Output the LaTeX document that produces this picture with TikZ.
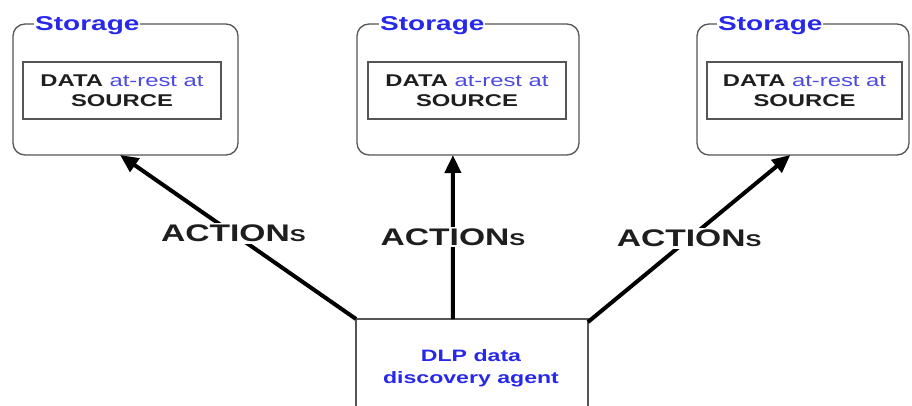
\documentclass[tikz,border=0pt]{standalone}
\usepackage{fontspec}
\setmainfont{Liberation Sans}
\newfontfamily\widefont[FakeStretch=1.4]{Liberation Sans}
\usetikzlibrary{arrows.meta,calc}
\definecolor{stblue}{RGB}{40,40,235}
\definecolor{lblue}{RGB}{75,75,225}
\definecolor{boxgray}{RGB}{85,85,85}
\definecolor{txt}{RGB}{30,30,30}
\tikzset{
 storebox/.style={draw=boxgray, line width=1.3pt, rounded corners=12pt, inner sep=0pt, outer sep=0pt},
 innerbox/.style={draw=boxgray, line width=1.3pt, inner sep=0pt, outer sep=0pt, align=center, text=txt,
   font=\widefont\fontsize{17}{20}\selectfont},
 storelabel/.style={fill=white, inner sep=1pt, anchor=west, text=stblue,
   font=\widefont\bfseries\fontsize{20}{22}\selectfont},
 act/.style={line width=4pt, -{Triangle[length=18pt,width=16pt]}},
 actlabel/.style={fill=white, inner sep=2pt, text=txt,
   font=\widefont\bfseries\fontsize{24}{26}\selectfont},
 agentbox/.style={draw=none, inner sep=0pt, outer sep=0pt, minimum width=232pt, minimum height=87pt},
 agenttext/.style={align=center, text=stblue, font=\widefont\bfseries\fontsize{16.5}{22}\selectfont},
}
\begin{document}
\begin{tikzpicture}[x=1pt,y=1pt]
\useasboundingbox[fill=white] (0,0) rectangle (912,-406);
% storage boxes
\node[storebox, minimum width=225pt, minimum height=131pt] (s1) at (125.5,-89.5) {};
\node[storebox, minimum width=222pt, minimum height=131pt] (s2) at (468,-89.5) {};
\node[storebox, minimum width=212pt, minimum height=131pt] (s3) at (803,-89.5) {};
% storage labels
\node[storelabel] (l1) at ($(s1.north west)+(21,-2)$) {Storage};
\node[storelabel] (l2) at ($(s2.north west)+(22,-2)$) {Storage};
\node[storelabel] (l3) at ($(s3.north west)+(20,-2)$) {Storage};
% inner boxes
\node[innerbox, minimum width=198pt, minimum height=57pt] (i1) at (122,-90.5)
  {{\bfseries DATA} {\color{lblue}at-rest at}\\{\bfseries SOURCE}};
\node[innerbox, minimum width=198pt, minimum height=57pt] (i2) at (467,-90.5)
  {{\bfseries DATA} {\color{lblue}at-rest at}\\{\bfseries SOURCE}};
\node[innerbox, minimum width=195pt, minimum height=57pt] (i3) at (804.5,-90.5)
  {{\bfseries DATA} {\color{lblue}at-rest at}\\{\bfseries SOURCE}};
% agent
\node[agentbox] (agent) at (472,-362.5) {};
\draw[draw=boxgray, line width=1.3pt] (agent.south west) -- (agent.north west) -- (agent.north east) -- (agent.south east);
\node[agenttext] (at) at (471,-368) {DLP data\\discovery agent};
% arrows
\draw[act] (agent.north west) -- node[actlabel, pos=0.52] (a1) {ACTION{\fontsize{17}{20}\selectfont S}}
  ($(s1.south west)!0.476!(s1.south east)$);
\draw[act] ($(agent.north west)!0.418!(agent.north east)$) -- node[actlabel, pos=0.5] (a2) {ACTION{\fontsize{17}{20}\selectfont S}}
  ($(s2.south west)!0.432!(s2.south east)$);
\draw[act] ($(agent.north east)+(0,-3)$) -- node[actlabel, pos=0.5] (a3) {ACTION{\fontsize{17}{20}\selectfont S}}
  ($(s3.south west)!0.44!(s3.south east)$);
\end{tikzpicture}
\end{document}
